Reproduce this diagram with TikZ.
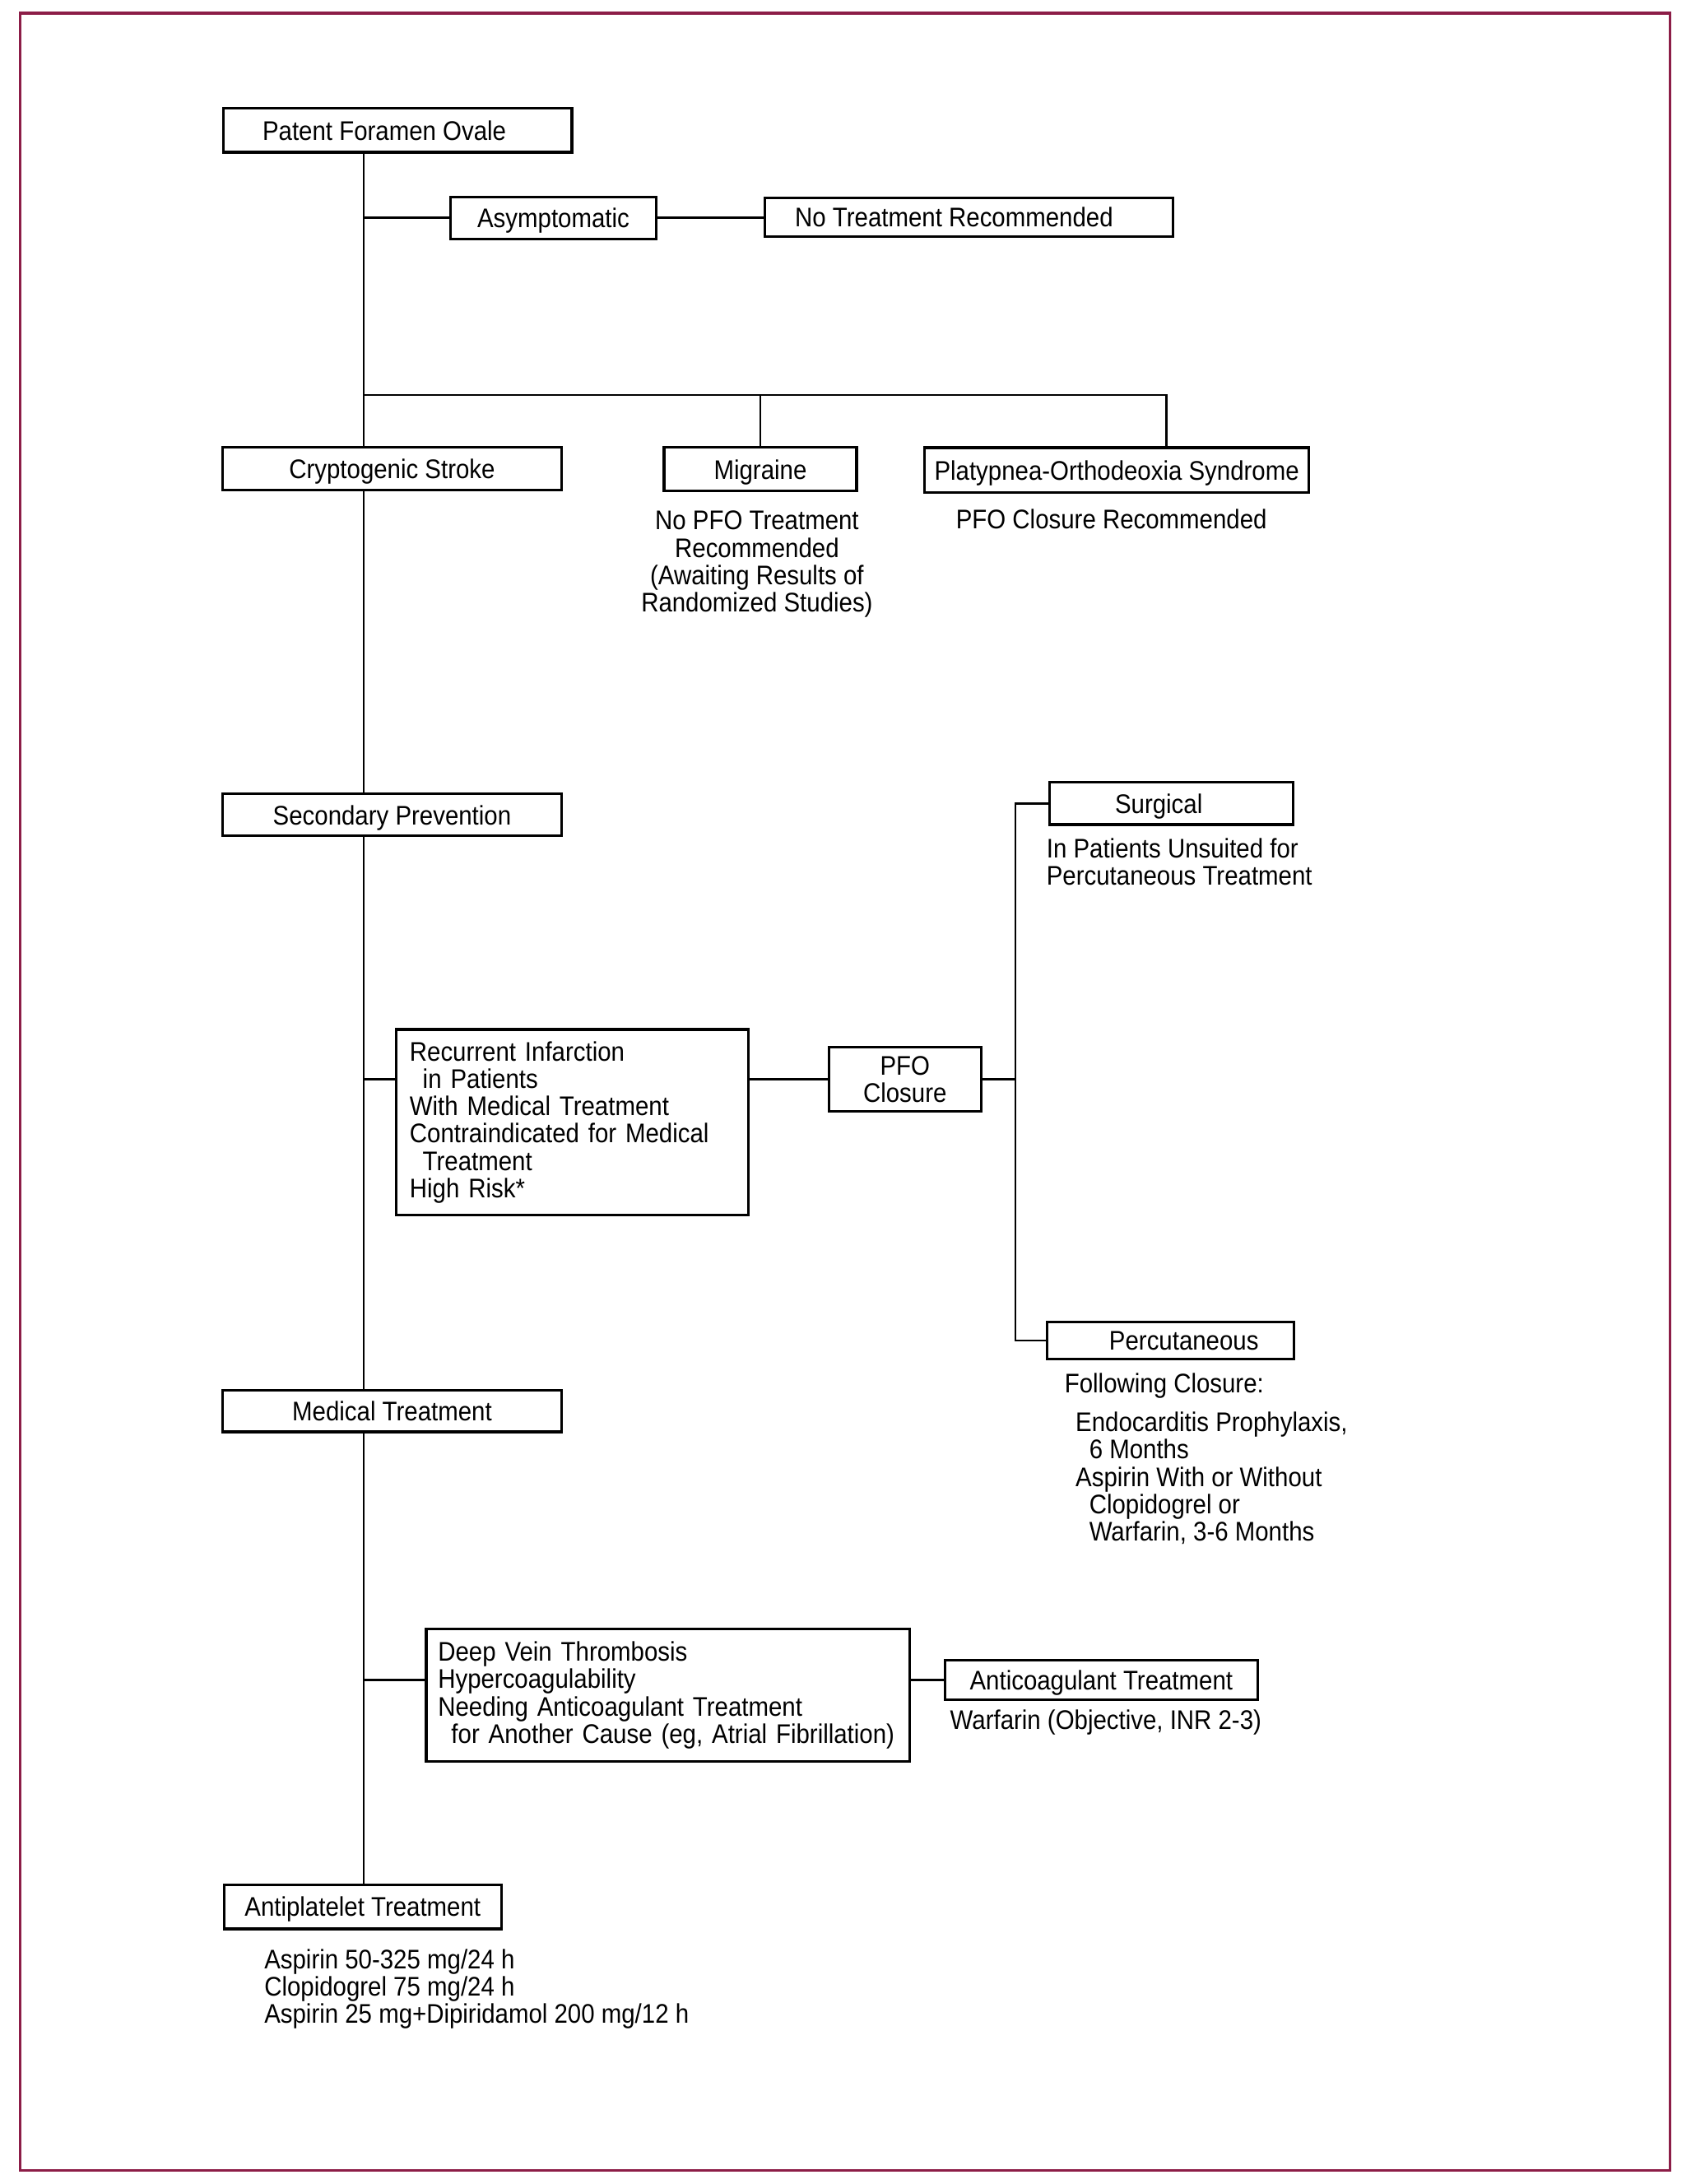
\documentclass[tikz,border=0pt]{standalone}
\usepackage{fontspec}
\setmainfont{Liberation Sans}[FakeStretch=0.9]
\definecolor{framecol}{HTML}{8C1D47}
\begin{document}
\begin{tikzpicture}[x=0.01692cm, y=-0.01692cm,
  every node/.style={font=\fontsize{9.3}{9.45}\selectfont, inner sep=0pt},
  bx/.style={draw, line width=0.9pt},
  one/.style={bx, text height=6.8pt, text depth=0pt},
  ln/.style={line width=0.7pt}]
\useasboundingbox (0,0) rectangle (1214,1568);
\draw[framecol, line width=0.9pt] (14.3,9.5) rectangle (1199,1558.3);

% boxes
\node[one, minimum width=4.235cm, minimum height=0.533cm] (pfo) at (285.5,93.6) {Patent Foramen Ovale\kern9.2pt\relax};
\node[one, minimum width=2.496cm, minimum height=0.508cm] (asym) at (397.3,156.4) {Asymptomatic};
\node[one, minimum width=4.958cm, minimum height=0.474cm] (ntr) at (695.5,156) {No Treatment Recommended\kern10.1pt\relax};
\node[one, minimum width=4.112cm, minimum height=0.525cm] (crypto) at (281.5,336.5) {Cryptogenic Stroke};
\node[one, minimum width=2.338cm, minimum height=0.523cm] (migr) at (545.9,336.8) {Migraine};
\node[one, minimum width=4.673cm, minimum height=0.543cm] (pos) at (801.8,337.4) {Platypnea-Orthodeoxia Syndrome};
\node[one, minimum width=4.112cm, minimum height=0.508cm] (sp) at (281.5,585) {Secondary Prevention};
\node[one, minimum width=2.961cm, minimum height=0.511cm] (surg) at (841,576.9) {Surgical\kern8.7pt\relax};
\node[bx, align=left, text width=112.4pt, inner xsep=4.67pt, minimum height=2.255cm] (ri) at (410.9,805.7)
  {Recurrent Infarction\\\hspace*{4.5pt}in Patients\\With Medical Treatment\\Contraindicated for Medical\\\hspace*{4.5pt}Treatment\\High Risk*};
\node[bx, align=center, minimum width=1.853cm, minimum height=0.782cm] (pfoc) at (649.75,774.9) {PFO\\Closure};
\node[one, minimum width=3.0cm, minimum height=0.45cm] (perc) at (840.25,962.3) {\hspace{9.4pt}Percutaneous};
\node[one, minimum width=4.112cm, minimum height=0.508cm] (med) at (281.5,1013) {Medical Treatment};
\node[bx, align=left, text width=158.9pt, inner xsep=4.09pt, minimum height=1.611cm] (dvt) at (479.5,1217.1)
  {Deep Vein Thrombosis\\Hypercoagulability\\Needing Anticoagulant Treatment\\\hspace*{4.6pt}for Another Cause (eg, Atrial Fibrillation)};
\node[one, minimum width=3.797cm, minimum height=0.482cm] (antic) at (790.7,1206.25) {Anticoagulant Treatment};
\node[one, minimum width=3.370cm, minimum height=0.538cm] (antip) at (260.4,1368.9) {Antiplatelet Treatment};

% free texts
\node[anchor=north, align=center] (migrN) at (543.5,366.5) {No PFO Treatment\\Recommended\\(Awaiting Results of\\Randomized Studies)};
\node[anchor=base west] (posN) at (686,379.8) {PFO Closure Recommended};
\node[anchor=north west, align=left] (surgN) at (751,601.6) {In Patients Unsuited for\\Percutaneous Treatment};
\node[anchor=base west] (follow) at (764,999.8) {Following Closure:};
\node[anchor=north west, align=left] (percN) at (771.9,1013.4) {Endocarditis Prophylaxis,\\\hspace*{4.7pt}6 Months\\Aspirin With or Without\\\hspace*{4.7pt}Clopidogrel or\\\hspace*{4.7pt}Warfarin, 3-6 Months};
\node[anchor=base west] (warfN) at (681.8,1241.7) {Warfarin (Objective, INR 2-3)};
\node[anchor=north west, align=left] (antipN) at (189.4,1398.8) {Aspirin 50-325 mg/24 h\\Clopidogrel 75 mg/24 h\\Aspirin 25 mg+Dipiridamol 200 mg/12 h};

% connectors
\coordinate (tx) at (261.1,0);
\coordinate (bar) at (261.1,283.5);
\coordinate (posj) at (837.5,283.5);
\coordinate (vx) at (729,0);
\draw[ln] (pfo.south -| tx) -- (crypto.north -| tx);
\draw[ln] (asym.west -| tx) -- (asym.west);
\draw[ln] (asym.east) -- (asym.east -| ntr.west);
\draw[ln] (bar) -- (posj) -- (posj |- pos.north);
\draw[ln] (bar -| migr.north) -- (migr.north);
\draw[ln] (crypto.south -| tx) -- (sp.north -| tx);
\draw[ln] (sp.south -| tx) -- (med.north -| tx);
\draw[ln] (pfoc.west -| tx) -- (pfoc.west -| ri.west);
\draw[ln] (pfoc.west -| ri.east) -- (pfoc.west);
\draw[ln] (pfoc.east) -- (pfoc.east -| vx);
\draw[ln] (surg.west) -- (surg.west -| vx) -- (perc.west -| vx) -- (perc.west);
\draw[ln] (med.south -| tx) -- (antip.north -| tx);
\draw[ln] (antic.west -| tx) -- (antic.west -| dvt.west);
\draw[ln] (antic.west -| dvt.east) -- (antic.west);
\end{tikzpicture}
\end{document}
